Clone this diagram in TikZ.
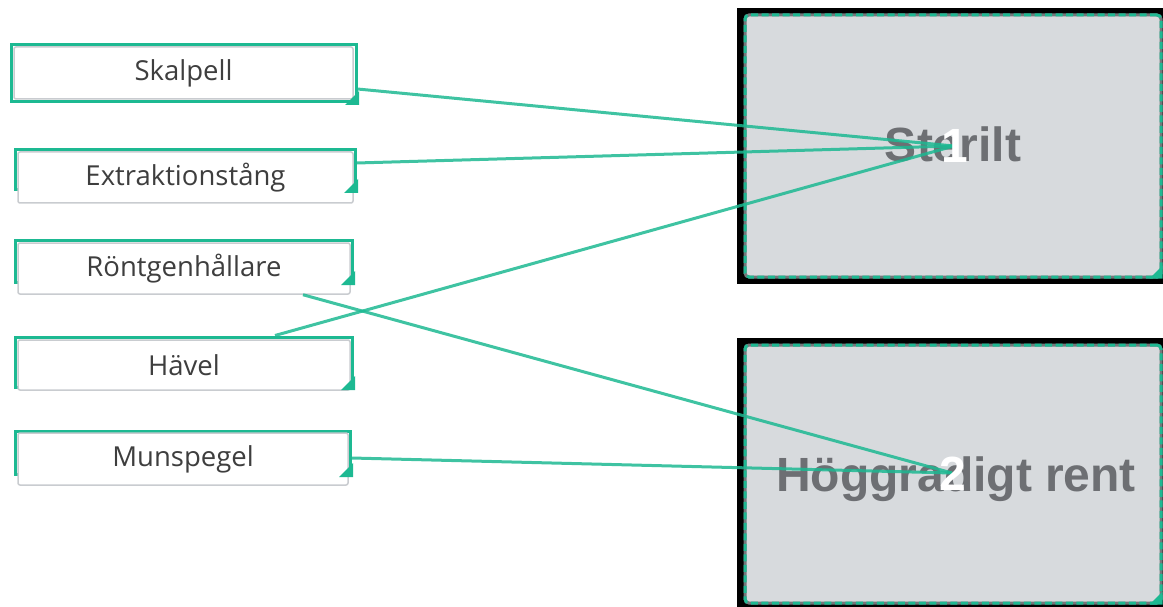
\documentclass[tikz,border=0pt]{standalone}
\usepackage{fontspec}
\setmainfont{Open Sans}
\newfontfamily\zonefont{Liberation Sans}
\definecolor{matchgreen}{HTML}{1DB992}
\definecolor{cardgray}{HTML}{C9CCD0}
\definecolor{textgray}{HTML}{3E3E3E}
\definecolor{zonegray}{HTML}{D7DADD}
\definecolor{ringgray}{HTML}{75777B}
\definecolor{labelgray}{HTML}{6D6F73}
\begin{document}
\begin{tikzpicture}[
            x=1pt, y=-1pt,
            frame/.style={draw=matchgreen, line width=3pt, inner sep=0pt},
            card/.style={draw=cardgray, fill=white, line width=1.5pt, rounded corners=2pt,
                    inner sep=0pt, text=textgray, font=\fontsize{27.5}{30}\selectfont},
            zone/.style={fill=zonegray, draw=ringgray, line width=3pt, rounded corners=4pt,
                    postaction={draw=matchgreen, line width=3pt, dash pattern=on 7pt off 3.5pt}},
            biglabel/.style={anchor=base, font=\zonefont\bfseries\fontsize{48}{50}\selectfont},
            link/.style={matchgreen, line width=3pt, opacity=.85}
        ]
        \useasboundingbox (0,0) rectangle (1163,607);

        % alternativ (vänster)
        \node[frame, minimum width=345pt, minimum height=57pt] (skalpellF) at (183.5,73.5) {};
        \node[card, minimum width=339pt, minimum height=52pt] (skalpell) at (183.5,73) {Skalpell};

        \node[frame, minimum width=340pt, minimum height=40pt] (extraktionF) at (185,170) {};
        \node[card, minimum width=335pt, minimum height=51pt] (extraktion) at (185.5,177.5) {Extraktionstång};

        \node[frame, minimum width=337pt, minimum height=42pt] (rontgenF) at (183.5,261) {};
        \node[card, minimum width=332pt, minimum height=51pt] (rontgen) at (184,268.5) {Röntgenhållare};

        \node[frame, minimum width=337pt, minimum height=50pt] (havelF) at (183.5,362) {};
        \node[card, minimum width=332pt, minimum height=50pt] (havel) at (184,365) {Hävel};

        \node[frame, minimum width=335pt, minimum height=43pt] (munspegelF) at (182.5,452.5) {};
        \node[card, minimum width=330pt, minimum height=52pt] (munspegel) at (183,459) {Munspegel};

        % hörnmarkeringar
        \foreach \n in {skalpellF, extraktionF, rontgenF, havelF, munspegelF} {
                \fill[matchgreen] ([shift={(1.5pt,-1.5pt)}]\n.south east) -- ++(-14,0) -- ++(14,-14) -- cycle;
            }

        % zoner (höger)
        \fill[black] (737,8) rectangle (1175,284);
        \node[zone, minimum width=416pt, minimum height=262pt] (zoneone) at (953,146) {};
        \fill[matchgreen] (zoneone.south east) -- ++(-13,0) -- ++(13,-13) -- cycle;
        \node[biglabel, text=labelgray] (sterilt) at (953,162) {Sterilt};

        \fill[black] (737,338) rectangle (1175,615);
        \node[zone, minimum width=416pt, minimum height=258pt] (zonetwo) at (953,474) {};
        \fill[matchgreen] (zonetwo.south east) -- ++(-13,0) -- ++(13,-13) -- cycle;
        \node[biglabel, text=labelgray] (hoggradigt) at (956,491) {Höggradigt rent};

        % kopplingar
        \coordinate (one) at (954,146);
        \coordinate (two) at (952,473);
        \draw[link] ([yshift=-15.5pt]skalpellF.east) -- (one);
        \draw[link] ([yshift=7pt]extraktionF.east) -- (one);
        \draw[link] ([xshift=91.5pt]havelF.north) -- (one);
        \draw[link] ([xshift=119pt]rontgen.south) -- (two);
        \draw[link] ([yshift=-5.5pt]munspegelF.east) -- (two);

        % siffror
        \node[biglabel, text=white] (oneLabel) at (955,163) {1};
        \node[biglabel, text=white] (twoLabel) at (953,490) {2};
    \end{tikzpicture}
\end{document}
